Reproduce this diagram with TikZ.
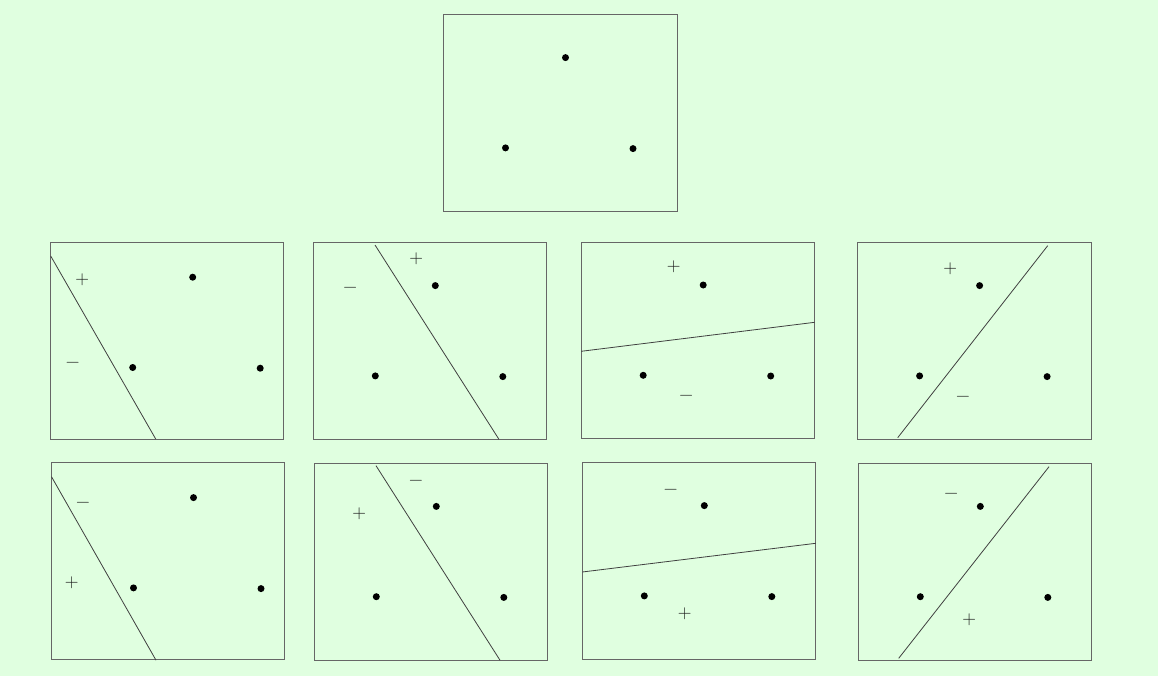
\documentclass[tikz,border=0pt]{standalone}
\definecolor{bgcol}{HTML}{E0FFE0}
\tikzset{
  panel/.style={draw=black!60, line width=0.9pt},
  cut/.style={draw=black!75, line width=0.8pt},
  sign/.style={inner sep=0pt, text=black!90, font=\fontsize{19}{20}\selectfont,
    execute at begin node=\vphantom{+}}
}
\begin{document}
\begin{tikzpicture}[x=1pt, y=-1pt]
\fill[bgcol] (0,0) rectangle (1158,676);

% the nine panels
\foreach \x/\y in {443.5/14.6, 50.2/242.2, 313.3/242.6, 581.2/242, 857.6/242.6, 51/462.6, 314.3/463.4, 582.3/462.6, 858.3/463.4}
{
    \draw[panel] (\x,\y) rectangle ++(233.5,196.8);
}

% three points in each panel
\foreach \x/\y in {443.5/14.6, 313.3/242.6, 581.2/242, 857.6/242.6, 314.3/463.4, 582.3/462.6, 858.3/463.4, 70.7/234.2, 71.5/454.6}
    \foreach \u/\v in {122/43, 62/133.3, 189.5/134}
    {
        \fill (\x+\u,\y+\v) circle (3.5pt);
    }

% separating lines
\foreach \a/\b/\c/\d in {50.7/256/155.7/439, 375/245/499/439.4, 581.2/351.3/814.7/322.3, 897.7/437.7/1047.7/245.7, 51.5/476.7/156/660.2, 376/465.7/500/660.2, 582.3/572/815.8/543.3, 898.7/658.3/1049/466.7}
    \draw[cut] (\a,\b) -- (\c,\d);

% labels
\foreach \k/\x/\y in {1/82.3/279.3, 2/416.3/259, 3/673.7/266.3, 4/950.3/268.3, 5/71.7/583, 6/359.3/513.3, 7/684.7/614, 8/969.3/620}
    \node[sign] (plus\k) at (\x,\y) {+};
\foreach \k/\x/\y in {1/72.7/362.3, 2/350.3/287.3, 3/686.3/395.7, 4/963/396.7, 5/83/502.3, 6/416/481, 7/670.7/489.7, 8/951.3/493.3}
    \node[sign] (minus\k) at (\x,\y) {−};
\end{tikzpicture}
\end{document}
